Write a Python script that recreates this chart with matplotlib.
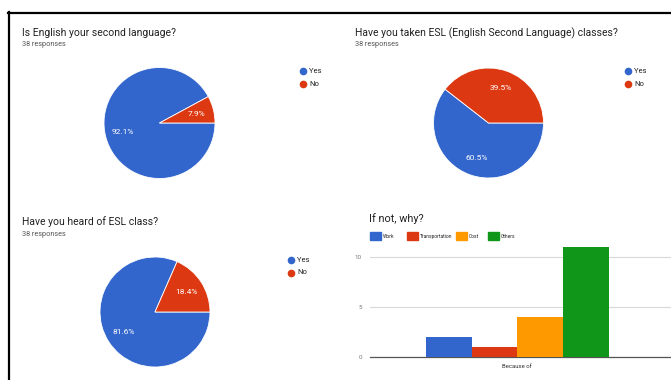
"""Survey results: three pies and one bar chart."""
import matplotlib
matplotlib.use('Agg')
import matplotlib.pyplot as plt
from matplotlib.lines import Line2D
from matplotlib.patches import Rectangle

W, H = 671, 380

pie_titles = ["Is English your second language?",
              "Have you taken ESL (English Second Language) classes?",
              "Have you heard of ESL class?"]
pie_labels = ["Yes", "No"]
pie_counts = [[35, 3], [23, 15], [31, 7]]
responses = "38 responses"

bar_title = "If not, why?"
bar_names = ["Work", "Transportation", "Cost", "Others"]
bar_values = [2, 1, 4, 11]
bar_category = "Because of"
bar_ticks = [0, 5, 10]

BLUE = '#3366cc'
RED = '#dc3912'
ORANGE = '#ff9900'
GREEN = '#109618'
pie_colors = [BLUE, RED]
bar_colors = [BLUE, RED, ORANGE, GREEN]

plt.rcParams['font.family'] = ['Roboto', 'DejaVu Sans']


def px(x0, y0, x1, y1):
    """Pixel box (top-left origin) -> figure fraction rect."""
    return [x0 / W, 1 - y1 / H, (x1 - x0) / W, (y1 - y0) / H]


def fx(x):
    return x / W


def fy(y):
    return 1 - y / H


fig = plt.figure(figsize=(W / 100, H / 100), dpi=100)
fig.patch.set_facecolor('white')

# frame lines of the screenshot
fig.add_artist(Line2D([fx(8), 1], [fy(12.5), fy(12.5)], color='black', lw=1.6))
fig.add_artist(Line2D([fx(8.5), fx(8.5)], [fy(12), 0], color='black', lw=1.6))

# pie panels: title pos, pie centre, radius, legend pos
pie_layout = [
    ((22, 33), (159.5, 123), 55.5, (303, 71)),
    ((355, 33), (488.5, 123), 55.0, (628, 71)),
    ((22, 222), (155, 312), 55.0, (291, 260)),
]

for title, counts, (tpos, cen, r, lpos) in zip(pie_titles, pie_counts, pie_layout):
    fig.text(fx(tpos[0]), fy(tpos[1]), title, fontsize=7.5, color='#212121',
             va='center', ha='left')
    fig.text(fx(tpos[0]), fy(tpos[1] + 12), responses, fontsize=5.2, color='#555555',
             va='center', ha='left')
    ax = fig.add_axes(px(cen[0] - r, cen[1] - r, cen[0] + r, cen[1] + r))
    ax.pie(counts, colors=pie_colors, startangle=0, counterclock=False,
           autopct='%1.1f%%', pctdistance=0.68,
           wedgeprops=dict(edgecolor='white', linewidth=0.6),
           textprops=dict(color='white', fontsize=6))
    ax.set_xlim(-1, 1)
    ax.set_ylim(-1, 1)
    ax.set_aspect('equal')
    ax.axis('off')
    for i, (lab, col) in enumerate(zip(pie_labels, pie_colors)):
        yy = lpos[1] + i * 12.5
        fig.add_artist(Line2D([fx(lpos[0])], [fy(yy)], marker='o', markersize=4.5,
                              color=col, linestyle='none'))
        fig.text(fx(lpos[0] + 6), fy(yy), lab, fontsize=5.5, color='#222222',
                 va='center', ha='left')

# bar panel
fig.text(fx(369), fy(219), bar_title, fontsize=7.8, color='#212121',
         va='center', ha='left')
leg_x = [370, 407, 456, 488]
for lx, name, col in zip(leg_x, bar_names, bar_colors):
    fig.add_artist(Rectangle((fx(lx), fy(240)), 11 / W, 8 / H, color=col,
                             transform=fig.transFigure))
    fig.text(fx(lx + 12.5), fy(236), name, fontsize=3.5, color='#222222',
             va='center', ha='left')

ax4 = fig.add_axes(px(370, 237, 671, 357))
pos = list(range(len(bar_values)))
ax4.bar(pos, bar_values, width=1.0, color=bar_colors, zorder=3)
ax4.set_ylim(0, 12)
ax4.set_xlim(-1.73, 4.87)
ax4.set_yticks(bar_ticks)
ax4.set_yticklabels([str(t) for t in bar_ticks], fontsize=4.5, color='#777777')
ax4.set_xticks([1.5])
ax4.set_xticklabels([bar_category], fontsize=4.3, color='#333333')
ax4.tick_params(length=0, pad=6)
ax4.tick_params(axis='x', pad=5)
ax4.grid(axis='y', color='#d9d9d9', linewidth=0.8, zorder=0)
for s in ['top', 'right', 'left']:
    ax4.spines[s].set_visible(False)
ax4.spines['bottom'].set_color('#555555')
ax4.spines['bottom'].set_linewidth(0.9)
ax4.set_facecolor('none')

fig.savefig('out.png', dpi=100, facecolor='white')
